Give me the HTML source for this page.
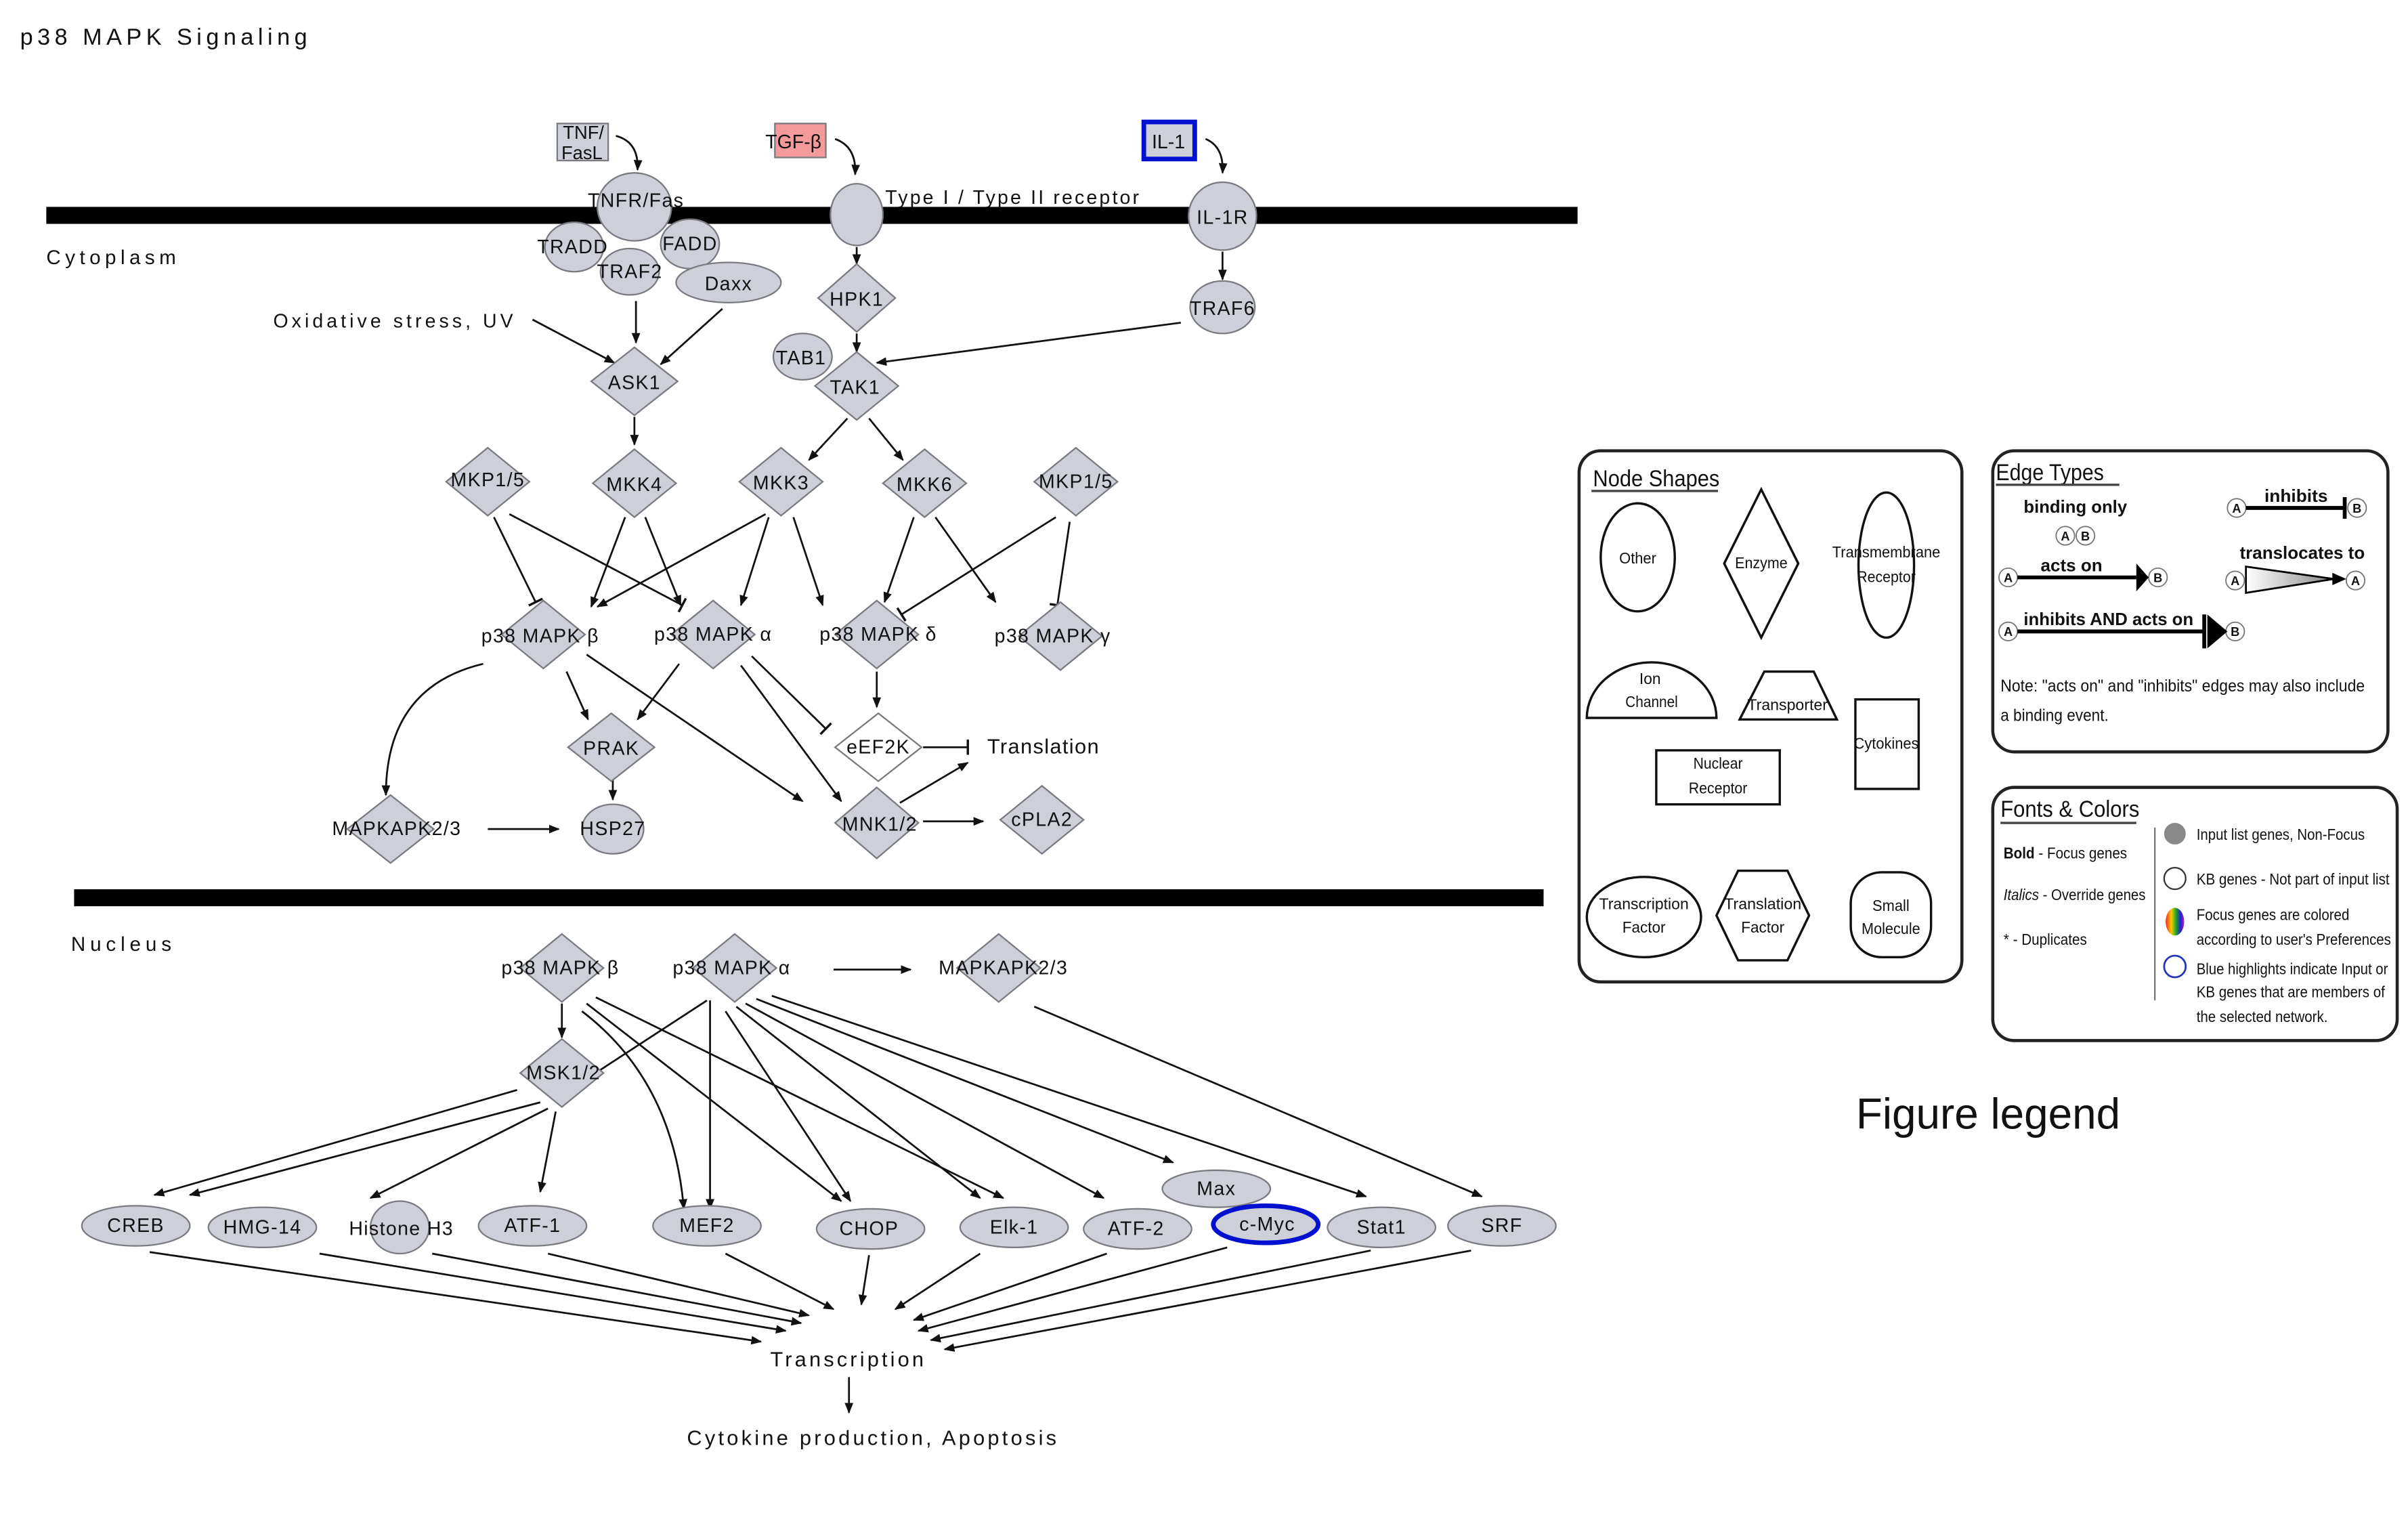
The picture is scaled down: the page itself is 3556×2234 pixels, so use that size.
<!DOCTYPE html>
<html><head><meta charset="utf-8">
<style>
html,body{margin:0;padding:0;background:#fff;}
svg{display:block;}
text{font-family:"Liberation Sans",sans-serif;fill:#111;}
</style></head>
<body>
<svg width="3556" height="2234" viewBox="0 0 1560 980" preserveAspectRatio="none" xmlns="http://www.w3.org/2000/svg">
<defs>
<marker id="a" viewBox="0 0 10 10" refX="9" refY="5" markerWidth="7" markerHeight="7" orient="auto" markerUnits="userSpaceOnUse"><path d="M0,1 L10,5 L0,9 z" fill="#111"/></marker>
<marker id="t" viewBox="0 0 4 10" refX="2" refY="5" markerWidth="4" markerHeight="10" orient="auto" markerUnits="userSpaceOnUse"><path d="M2,0 L2,10" stroke="#111" stroke-width="1.5"/></marker>
<linearGradient id="tg" x1="0" x2="1"><stop offset="0" stop-color="#fff"/><stop offset="1" stop-color="#888"/></linearGradient>
<linearGradient id="rb" x1="0" x2="1"><stop offset="0" stop-color="#e22"/><stop offset="0.3" stop-color="#fc0"/><stop offset="0.55" stop-color="#2a2"/><stop offset="0.8" stop-color="#22c"/><stop offset="1" stop-color="#a2c"/></linearGradient>
</defs>
<rect width="1560" height="980" fill="#fff"/>
<text x="13" y="29" font-size="15" textLength="186" lengthAdjust="spacing">p38 MAPK Signaling</text>

<!-- membranes -->
<rect x="30" y="134" width="992" height="11" fill="#000"/>
<rect x="48" y="576" width="952" height="11" fill="#000"/>
<text x="30" y="171" font-size="13" textLength="84" lengthAdjust="spacing">Cytoplasm</text>
<text x="46" y="616" font-size="13" textLength="65" lengthAdjust="spacing">Nucleus</text>

<g stroke="#111" stroke-width="1.2" fill="none" marker-end="url(#a)">
<path d="M399,88 Q414,92 413,110"/>
<path d="M541,90 Q555,95 554,113"/>
<path d="M781,90 Q793,95 792,112"/>
<path d="M555,160 L555,171"/>
<path d="M792,163 L792,181"/>
<path d="M345,207 L398,235"/>
<path d="M412,195 L412,222"/>
<path d="M468,200 L428,236"/>
<path d="M555,216 L555,228"/>
<path d="M765,209 L568,235"/>
<path d="M411,270 L411,288"/>
<path d="M549,271 L524,298"/>
<path d="M563,271 L585,298"/>
<path d="M405,335 L383,393"/>
<path d="M418,335 L441,392"/>
<path d="M496,333 L387,393"/>
<path d="M498,335 L480,392"/>
<path d="M514,335 L533,392"/>
<path d="M592,335 L573,390"/>
<path d="M606,335 L645,390"/>
<path d="M313,430 Q250,445 250,515"/>
<path d="M367,435 L381,466"/>
<path d="M440,430 L413,466"/>
<path d="M380,424 L520,519"/>
<path d="M480,431 L545,519"/>
<path d="M568,435 L568,458"/>
<path d="M397,505 L397,518"/>
<path d="M316,537 L362,537"/>
<path d="M598,532 L637,532"/>
<path d="M583,520 L627,494"/>
<path d="M540,628 L590,628"/>
<path d="M364,650 L364,672"/>
<path d="M458,648 L372,704"/>
<path d="M335,706 L100,774"/>
<path d="M350,714 L123,774"/>
<path d="M355,718 L240,776"/>
<path d="M360,720 L350,772"/>
<path d="M377,655 Q436,700 443,783"/>
<path d="M380,650 L545,778"/>
<path d="M386,646 L650,776"/>
<path d="M460,648 L460,783"/>
<path d="M470,655 L551,778"/>
<path d="M477,652 L635,776"/>
<path d="M483,650 L715,776"/>
<path d="M490,647 L760,753"/>
<path d="M500,645 L885,775"/>
<path d="M670,652 L960,775"/>
<path d="M97,811 L493,869"/>
<path d="M207,812 L509,862"/>
<path d="M280,812 L519,857"/>
<path d="M355,812 L524,852"/>
<path d="M470,812 L540,848"/>
<path d="M563,813 L558,845"/>
<path d="M635,812 L580,848"/>
<path d="M717,812 L592,855"/>
<path d="M795,808 L595,862"/>
<path d="M888,810 L603,868"/>
<path d="M953,810 L612,874"/>
<path d="M550,892 L550,915"/>
</g>
<g stroke="#111" stroke-width="1.2" fill="none" marker-end="url(#t)">
<path d="M320,335 L347,390"/>
<path d="M330,333 L442,392"/>
<path d="M684,335 L584,398"/>
<path d="M693,338 L685,392"/>
<path d="M487,425 L535,472"/>
<path d="M598,484 L627,484"/>
</g>

<g fill="#cdd0d9" stroke="#7a7a80" stroke-width="1">
<rect x="361" y="80" width="33" height="24"/>
<rect x="502" y="80" width="33" height="22" fill="#f49a9a"/>
<rect x="741" y="79" width="33" height="24" stroke="#0010d0" stroke-width="3"/>
<ellipse cx="411" cy="134" rx="24" ry="22"/>
<ellipse cx="555" cy="139" rx="17" ry="20"/>
<ellipse cx="792" cy="140" rx="22" ry="22"/>
<ellipse cx="372" cy="160" rx="19" ry="16"/>
<ellipse cx="447" cy="158" rx="19" ry="16"/>
<ellipse cx="408" cy="176" rx="19" ry="15"/>
<ellipse cx="472" cy="183" rx="34" ry="13"/>
<ellipse cx="792" cy="199" rx="21" ry="17"/>
<ellipse cx="520" cy="231" rx="19" ry="15"/>
<polygon points="555,171 580,193 555,215 530,193"/>
<polygon points="411,225 439,247 411,269 383,247"/>
<polygon points="555,228 582,250 555,272 528,250"/>
<polygon points="316,290 343,312 316,334 289,312"/>
<polygon points="411,291 438,313 411,335 384,313"/>
<polygon points="506,290 533,312 506,334 479,312"/>
<polygon points="599,291 626,313 599,335 572,313"/>
<polygon points="697,290 724,312 697,334 670,312"/>
<polygon points="352,389 379,411 352,433 325,411"/>
<polygon points="462,389 489,411 462,433 435,411"/>
<polygon points="568,389 595,411 568,433 541,411"/>
<polygon points="687,390 714,412 687,434 660,412"/>
<polygon points="396,462 424,484 396,506 368,484"/>
<polygon points="569,462 597,484 569,506 541,484" fill="#fff"/>
<polygon points="253,515 281,537 253,559 225,537"/>
<ellipse cx="397" cy="537" rx="20" ry="16"/>
<polygon points="568,510 595,533 568,556 541,533"/>
<polygon points="675,509 702,531 675,553 648,531"/>
<polygon points="364,605 391,627 364,649 337,627"/>
<polygon points="476,605 503,627 476,649 449,627"/>
<polygon points="647,605 674,627 647,649 620,627"/>
<polygon points="364,673 391,695 364,717 337,695"/>
<ellipse cx="88" cy="794" rx="35" ry="13"/>
<ellipse cx="170" cy="795" rx="35" ry="13"/>
<ellipse cx="259" cy="795" rx="19" ry="17"/>
<ellipse cx="345" cy="794" rx="35" ry="13"/>
<ellipse cx="458" cy="794" rx="35" ry="13"/>
<ellipse cx="564" cy="796" rx="35" ry="13"/>
<ellipse cx="657" cy="795" rx="35" ry="13"/>
<ellipse cx="737" cy="796" rx="35" ry="13"/>
<ellipse cx="788" cy="770" rx="35" ry="12"/>
<ellipse cx="820" cy="793" rx="34" ry="12" stroke="#0010d0" stroke-width="3"/>
<ellipse cx="895" cy="795" rx="35" ry="13"/>
<ellipse cx="973" cy="794" rx="35" ry="13"/>
</g>

<g font-size="12.5" text-anchor="middle" letter-spacing="0.6">
<text x="378" y="90" font-size="12" letter-spacing="0">TNF/</text>
<text x="377" y="103" font-size="12" letter-spacing="0">FasL</text>
<text x="514" y="96" letter-spacing="0">TGF-β</text>
<text x="757" y="96" letter-spacing="0">IL-1</text>
<text x="412" y="134">TNFR/Fas</text>
<text x="656" y="132" textLength="165" lengthAdjust="spacing">Type I / Type II receptor</text>
<text x="792" y="145">IL-1R</text>
<text x="371" y="164">TRADD</text>
<text x="447" y="162">FADD</text>
<text x="408" y="180">TRAF2</text>
<text x="472" y="188">Daxx</text>
<text x="555" y="198">HPK1</text>
<text x="792" y="204">TRAF6</text>
<text x="255" y="212" textLength="156" lengthAdjust="spacing">Oxidative stress, UV</text>
<text x="519" y="236">TAB1</text>
<text x="411" y="252">ASK1</text>
<text x="554" y="255">TAK1</text>
<text x="316" y="315">MKP1/5</text>
<text x="411" y="318">MKK4</text>
<text x="506" y="317">MKK3</text>
<text x="599" y="318">MKK6</text>
<text x="697" y="316">MKP1/5</text>
<text x="350" y="416">p38 MAPK β</text>
<text x="462" y="415">p38 MAPK α</text>
<text x="569" y="415">p38 MAPK δ</text>
<text x="682" y="416">p38 MAPK γ</text>
<text x="396" y="489">PRAK</text>
<text x="569" y="488">eEF2K</text>
<text x="676" y="488" font-size="13.5">Translation</text>
<text x="257" y="541">MAPKAPK2/3</text>
<text x="397" y="541">HSP27</text>
<text x="570" y="538">MNK1/2</text>
<text x="675" y="535">cPLA2</text>
<text x="363" y="631">p38 MAPK β</text>
<text x="474" y="631">p38 MAPK α</text>
<text x="650" y="631">MAPKAPK2/3</text>
<text x="365" y="699">MSK1/2</text>
<text x="88" y="798">CREB</text>
<text x="170" y="799">HMG-14</text>
<text x="260" y="800">Histone H3</text>
<text x="345" y="798">ATF-1</text>
<text x="458" y="798">MEF2</text>
<text x="563" y="800">CHOP</text>
<text x="657" y="799">Elk-1</text>
<text x="736" y="800">ATF-2</text>
<text x="788" y="774">Max</text>
<text x="821" y="797">c-Myc</text>
<text x="895" y="799">Stat1</text>
<text x="973" y="798">SRF</text>
<text x="549" y="885" font-size="13.5" textLength="100" lengthAdjust="spacing">Transcription</text>
<text x="565" y="936" font-size="13.5" textLength="240" lengthAdjust="spacing">Cytokine production, Apoptosis</text>
</g>

<g fill="none" stroke="#222" stroke-width="2">
<rect x="1023" y="292" width="248" height="344" rx="14"/>
<rect x="1291" y="292" width="256" height="195" rx="14"/>
<rect x="1291" y="510" width="262" height="164" rx="14"/>
</g>
<g fill="none" stroke="#111" stroke-width="1.5">
<ellipse cx="1061" cy="361" rx="24" ry="35"/>
<polygon points="1141,317 1165,365 1141,413 1117,365"/>
<ellipse cx="1222" cy="366" rx="18" ry="47"/>
<path d="M1028,465 A42,36 0 0 1 1112,465 Z"/>
<polygon points="1127,466 1190,466 1175,435 1143,435"/>
<rect x="1202" y="453" width="41" height="58"/>
<rect x="1073" y="486" width="80" height="35"/>
<ellipse cx="1065" cy="594" rx="37" ry="26"/>
<polygon points="1126,564 1158,564 1172,593 1158,622 1126,622 1112,593"/>
<rect x="1199" y="565" width="52" height="55" rx="20"/>
</g>
<g font-size="10" text-anchor="middle" lengthAdjust="spacingAndGlyphs">
<text x="1032" y="315" font-size="15" text-anchor="start" textLength="82" lengthAdjust="spacingAndGlyphs">Node Shapes</text>
<line x1="1031" y1="318" x2="1113" y2="318" stroke="#444" stroke-width="1.5"/>
<text x="1061" y="365" textLength="24" lengthAdjust="spacingAndGlyphs">Other</text>
<text x="1141" y="368" textLength="34" lengthAdjust="spacingAndGlyphs">Enzyme</text>
<text x="1222" y="361" textLength="70" lengthAdjust="spacingAndGlyphs">Transmembrane</text>
<text x="1222" y="377" textLength="38" lengthAdjust="spacingAndGlyphs">Receptor</text>
<text x="1069" y="443">Ion</text>
<text x="1070" y="458" textLength="34" lengthAdjust="spacingAndGlyphs">Channel</text>
<text x="1158" y="460" textLength="52" lengthAdjust="spacingAndGlyphs">Transporter</text>
<text x="1222" y="485" textLength="42" lengthAdjust="spacingAndGlyphs">Cytokines</text>
<text x="1113" y="498" textLength="32" lengthAdjust="spacingAndGlyphs">Nuclear</text>
<text x="1113" y="514" textLength="38" lengthAdjust="spacingAndGlyphs">Receptor</text>
<text x="1065" y="589" textLength="58" lengthAdjust="spacingAndGlyphs">Transcription</text>
<text x="1065" y="604" textLength="28" lengthAdjust="spacingAndGlyphs">Factor</text>
<text x="1142" y="589" textLength="50" lengthAdjust="spacingAndGlyphs">Translation</text>
<text x="1142" y="604" textLength="28" lengthAdjust="spacingAndGlyphs">Factor</text>
<text x="1225" y="590" textLength="24" lengthAdjust="spacingAndGlyphs">Small</text>
<text x="1225" y="605" textLength="38" lengthAdjust="spacingAndGlyphs">Molecule</text>
</g>

<g>
<text x="1293" y="311" font-size="15" textLength="70" lengthAdjust="spacingAndGlyphs">Edge Types</text>
<line x1="1293" y1="314" x2="1373" y2="314" stroke="#444" stroke-width="1.5"/>
<g font-size="11.5" font-weight="bold">
<text x="1311" y="332" textLength="67" lengthAdjust="spacingAndGlyphs">binding only</text>
<text x="1322" y="370" textLength="40" lengthAdjust="spacingAndGlyphs">acts on</text>
<text x="1311" y="405" textLength="110" lengthAdjust="spacingAndGlyphs">inhibits AND acts on</text>
<text x="1467" y="325" textLength="41" lengthAdjust="spacingAndGlyphs">inhibits</text>
<text x="1451" y="362" textLength="81" lengthAdjust="spacingAndGlyphs">translocates to</text>
</g>
<g fill="none" stroke="#777" stroke-width="0.8">
<circle cx="1338" cy="347" r="6"/><circle cx="1351" cy="347" r="6"/>
<circle cx="1301" cy="374" r="6"/><circle cx="1398" cy="374" r="6"/>
<circle cx="1301" cy="409" r="6"/><circle cx="1448" cy="409" r="6"/>
<circle cx="1449" cy="329" r="6"/><circle cx="1527" cy="329" r="6"/>
<circle cx="1448" cy="376" r="6"/><circle cx="1526" cy="376" r="6"/>
</g>
<g font-size="8" text-anchor="middle" font-weight="bold">
<text x="1338" y="350">A</text><text x="1351" y="350">B</text>
<text x="1301" y="377">A</text><text x="1398" y="377">B</text>
<text x="1301" y="412">A</text><text x="1448" y="412">B</text>
<text x="1449" y="332">A</text><text x="1527" y="332">B</text>
<text x="1448" y="379">A</text><text x="1526" y="379">A</text>
</g>
<g stroke="#000" stroke-width="2.5">
<line x1="1307" y1="374" x2="1384" y2="374"/>
<line x1="1307" y1="409" x2="1428" y2="409"/>
<line x1="1455" y1="329" x2="1518" y2="329"/>
<line x1="1519" y1="322" x2="1519" y2="336"/>
<line x1="1428" y1="398" x2="1428" y2="420"/>
</g>
<polygon points="1384,365 1392,374 1384,383" fill="#000"/>
<polygon points="1430,398 1443,409 1430,420" fill="#000"/>
<polygon points="1455,367 1512,375 1455,384" fill="url(#tg)" stroke="#000" stroke-width="1.2"/>
<polygon points="1511,371 1520,375 1511,379" fill="#000"/>
<text x="1296" y="448" font-size="11" textLength="236" lengthAdjust="spacingAndGlyphs">Note: "acts on" and "inhibits" edges may also include</text>
<text x="1296" y="467" font-size="11" textLength="70" lengthAdjust="spacingAndGlyphs">a binding event.</text>

<text x="1296" y="529" font-size="15" textLength="90" lengthAdjust="spacingAndGlyphs">Fonts &amp; Colors</text>
<line x1="1296" y1="533" x2="1384" y2="533" stroke="#444" stroke-width="1.5"/>
<text x="1298" y="556" font-size="10" textLength="80" lengthAdjust="spacingAndGlyphs"><tspan font-weight="bold">Bold</tspan> - Focus genes</text>
<text x="1298" y="583" font-size="10" textLength="92" lengthAdjust="spacingAndGlyphs"><tspan font-style="italic">Italics</tspan> - Override genes</text>
<text x="1298" y="612" font-size="10" textLength="54" lengthAdjust="spacingAndGlyphs">* - Duplicates</text>
<line x1="1396" y1="536" x2="1396" y2="648" stroke="#777" stroke-width="1"/>
<circle cx="1409" cy="540" r="7" fill="#888"/>
<circle cx="1409" cy="569" r="7" fill="none" stroke="#333" stroke-width="1"/>
<ellipse cx="1409" cy="597" rx="6" ry="9" fill="url(#rb)"/>
<circle cx="1409" cy="626" r="7" fill="none" stroke="#2233bb" stroke-width="1.2"/>
<g font-size="10">
<text x="1423" y="544" textLength="109" lengthAdjust="spacingAndGlyphs">Input list genes, Non-Focus</text>
<text x="1423" y="573" textLength="125" lengthAdjust="spacingAndGlyphs">KB genes - Not part of input list</text>
<text x="1423" y="596" textLength="99" lengthAdjust="spacingAndGlyphs">Focus genes are colored</text>
<text x="1423" y="612" textLength="126" lengthAdjust="spacingAndGlyphs">according to user's Preferences</text>
<text x="1423" y="631" textLength="124" lengthAdjust="spacingAndGlyphs">Blue highlights indicate Input or</text>
<text x="1423" y="646" textLength="122" lengthAdjust="spacingAndGlyphs">KB genes that are members of</text>
<text x="1423" y="662" textLength="85" lengthAdjust="spacingAndGlyphs">the selected network.</text>
</g>
</g>
<text x="1288" y="731" font-size="28" text-anchor="middle" font-family="Liberation Serif,serif">Figure legend</text>
</svg>
</body></html>
